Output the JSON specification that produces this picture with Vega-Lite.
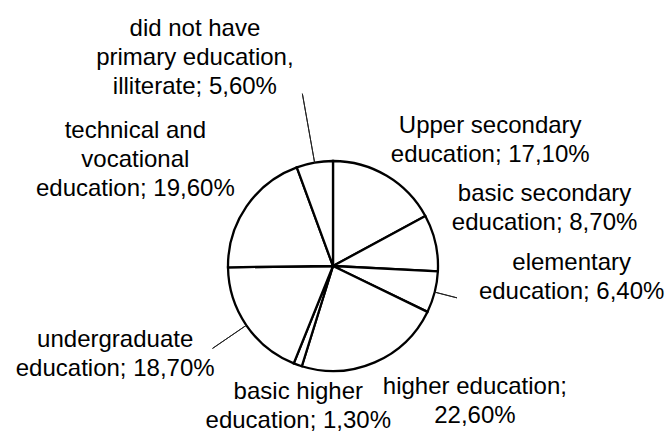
{
  "$schema": "https://vega.github.io/schema/vega-lite/v6.json",
  "autosize": "none",
  "width": 666,
  "height": 338,
  "padding": {"top": 97, "left": 0, "right": 6, "bottom": 0},
  "background": "white",
  "config": {"view": {"stroke": null}},
  "data": {"values": [
    {"cat": "Upper secondary education", "pct": 17.1, "order": 1, "label": "Upper secondary\neducation; 17,10%"},
    {"cat": "basic secondary education", "pct": 8.7, "order": 2, "label": "basic secondary\neducation; 8,70%"},
    {"cat": "elementary education", "pct": 6.4, "order": 3, "label": "elementary\neducation; 6,40%"},
    {"cat": "higher education", "pct": 22.6, "order": 4, "label": "higher education;\n22,60%"},
    {"cat": "basic higher education", "pct": 1.3, "order": 5, "label": "basic higher\neducation; 1,30%"},
    {"cat": "undergraduate education", "pct": 18.7, "order": 6, "label": "undergraduate\neducation; 18,70%"},
    {"cat": "technical and vocational education", "pct": 19.6, "order": 7, "label": "technical and\nvocational\neducation; 19,60%"},
    {"cat": "did not have primary education, illiterate", "pct": 5.6, "order": 8, "label": "did not have\nprimary education,\nilliterate; 5,60%"}
  ]},
  "layer": [
    {
      "mark": {"type": "arc", "radius": 105, "fill": "white", "stroke": "black", "strokeWidth": 2.3},
      "encoding": {
        "theta": {"field": "pct", "type": "quantitative", "stack": true},
        "order": {"field": "order", "type": "quantitative"}
      }
    },
    {
      "transform": [
        {"fold": ["pct", "pct"], "as": ["k", "val"]},
        {"window": [{"op": "row_number", "as": "copy"}], "groupby": ["cat"]},
        {"stack": "val", "groupby": [], "sort": [{"field": "order"}, {"field": "copy"}], "as": ["s0", "s1"]},
        {"filter": "datum.copy == 1"}
      ],
      "encoding": {
        "theta": {"field": "s1", "type": "quantitative", "stack": null, "scale": {"domain": [0, 200]}}
      },
      "layer": [
        {"transform": [{"filter": "datum.order == 8"}], "mark": {"type": "arc", "outerRadius": 175, "innerRadius": 105, "filled": false, "stroke": "#222", "strokeWidth": 1}, "encoding": {"theta2": {"field": "s1"}}},
        {"transform": [{"filter": "datum.order == 3"}], "mark": {"type": "arc", "outerRadius": 128, "innerRadius": 105, "filled": false, "stroke": "#222", "strokeWidth": 1}, "encoding": {"theta2": {"field": "s1"}}},
        {"transform": [{"filter": "datum.order == 6"}], "mark": {"type": "arc", "outerRadius": 146, "innerRadius": 105, "filled": false, "stroke": "#222", "strokeWidth": 1}, "encoding": {"theta2": {"field": "s1"}}},
        {"transform": [{"filter": "datum.order == 1"}], "mark": {"type": "text", "radius": 188, "dx": 61, "dy": 21.5, "align": "center", "baseline": "middle", "lineBreak": "\n", "font": "Liberation Sans", "fontSize": 24, "lineHeight": 29, "color": "#000"}, "encoding": {"text": {"field": "label"}}},
        {"transform": [{"filter": "datum.order == 2"}], "mark": {"type": "text", "radius": 219, "dx": -2, "dy": -23.5, "align": "center", "baseline": "middle", "lineBreak": "\n", "font": "Liberation Sans", "fontSize": 24, "lineHeight": 29, "color": "#000"}, "encoding": {"text": {"field": "label"}}},
        {"transform": [{"filter": "datum.order == 3"}], "mark": {"type": "text", "radius": 234, "dx": 12, "dy": -61.5, "align": "center", "baseline": "middle", "lineBreak": "\n", "font": "Liberation Sans", "fontSize": 24, "lineHeight": 29, "color": "#000"}, "encoding": {"text": {"field": "label"}}},
        {"transform": [{"filter": "datum.order == 4"}], "mark": {"type": "text", "radius": 181, "dx": 70, "dy": -45.5, "align": "center", "baseline": "middle", "lineBreak": "\n", "font": "Liberation Sans", "fontSize": 24, "lineHeight": 29, "color": "#000"}, "encoding": {"text": {"field": "label"}}},
        {"transform": [{"filter": "datum.order == 5"}], "mark": {"type": "text", "radius": 148, "dx": 15, "dy": -13, "align": "center", "baseline": "middle", "lineBreak": "\n", "font": "Liberation Sans", "fontSize": 24, "lineHeight": 29, "color": "#000"}, "encoding": {"text": {"field": "label"}}},
        {"transform": [{"filter": "datum.order == 6"}], "mark": {"type": "text", "radius": 230, "dx": -28, "dy": -55.5, "align": "center", "baseline": "middle", "lineBreak": "\n", "font": "Liberation Sans", "fontSize": 24, "lineHeight": 29, "color": "#000"}, "encoding": {"text": {"field": "label"}}},
        {"transform": [{"filter": "datum.order == 7"}], "mark": {"type": "text", "radius": 223, "dx": -14, "dy": -8, "align": "center", "baseline": "middle", "lineBreak": "\n", "font": "Liberation Sans", "fontSize": 24, "lineHeight": 29, "color": "#000"}, "encoding": {"text": {"field": "label"}}},
        {"transform": [{"filter": "datum.order == 8"}], "mark": {"type": "text", "radius": 229, "dx": -98, "dy": -12, "align": "center", "baseline": "middle", "lineBreak": "\n", "font": "Liberation Sans", "fontSize": 24, "lineHeight": 29, "color": "#000"}, "encoding": {"text": {"field": "label"}}}
      ]
    }
  ],
  "resolve": {"scale": {"theta": "independent"}}
}
